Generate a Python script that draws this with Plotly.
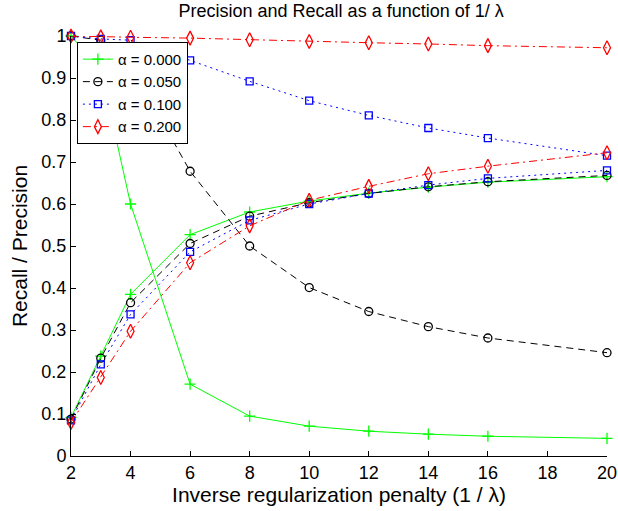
import plotly.graph_objects as go

# ---- data ----
inv_lambda = [2, 3, 4, 6, 8, 10, 12, 14, 16, 20]
alpha_labels = ["α = 0.000", "α = 0.050", "α = 0.100", "α = 0.200"]

precision_a000 = [1.0, 0.92, 0.60, 0.171, 0.095, 0.071, 0.059, 0.052, 0.047, 0.042]
recall_a000 = [0.092, 0.238, 0.385, 0.527, 0.581, 0.607, 0.626, 0.640, 0.652, 0.665]

precision_a050 = [1.0, 0.99, 0.93, 0.678, 0.500, 0.401, 0.344, 0.308, 0.281, 0.246]
recall_a050 = [0.088, 0.233, 0.365, 0.506, 0.571, 0.603, 0.625, 0.641, 0.653, 0.668]

precision_a100 = [1.0, 0.993, 0.990, 0.942, 0.892, 0.846, 0.811, 0.781, 0.757, 0.715]
recall_a100 = [0.085, 0.218, 0.337, 0.486, 0.561, 0.600, 0.625, 0.645, 0.661, 0.680]

precision_a200 = [1.0, 0.998, 0.997, 0.995, 0.991, 0.987, 0.984, 0.981, 0.977, 0.972]
recall_a200 = [0.080, 0.187, 0.297, 0.460, 0.548, 0.609, 0.642, 0.672, 0.690, 0.722]

x_ticks = [2, 4, 6, 8, 10, 12, 14, 16, 18, 20]
y_ticks = [0, 0.1, 0.2, 0.3, 0.4, 0.5, 0.6, 0.7, 0.8, 0.9, 1]
y_tick_text = ["0", "0.1", "0.2", "0.3", "0.4", "0.5", "0.6", "0.7", "0.8", "0.9", "1"]

# ---- styles ----
styles = [
    dict(color="#00FF00", dash="solid", symbol="cross-thin", size=8),
    dict(color="#000000", dash="7px,5px", symbol="circle-open", size=8),
    dict(color="#0000FF", dash="2px,4px", symbol="square-open", size=7),
    dict(color="#FF0000", dash="8px,4px,2px,4px", symbol="diamond-tall-open", size=10),
]
series = [
    (precision_a000, recall_a000),
    (precision_a050, recall_a050),
    (precision_a100, recall_a100),
    (precision_a200, recall_a200),
]

FONT = "Liberation Sans, Arial, Helvetica, sans-serif"

fig = go.Figure()
for label, st, (prec, rec) in zip(alpha_labels, styles, series):
    for i, yv in enumerate((prec, rec)):
        fig.add_trace(go.Scatter(
            x=inv_lambda, y=yv, mode="lines+markers", name=label,
            legendgroup=label, showlegend=(i == 0), cliponaxis=False,
            line=dict(color=st["color"], width=1, dash=st["dash"]),
            marker=dict(symbol=st["symbol"], size=st["size"], color=st["color"],
                        line=dict(color=st["color"], width=1.3)),
        ))

fig.update_layout(
    width=618, height=511,
    margin=dict(l=71, r=11, t=36, b=55),
    paper_bgcolor="white", plot_bgcolor="white",
    font=dict(family=FONT, size=18, color="black"),
    title=dict(text="Precision and Recall as a function of 1/ λ", x=0.552, xanchor="center",
               y=1 - 11 / 511, yanchor="middle", font=dict(size=18, family=FONT)),
    showlegend=True,
    legend=dict(x=0.011, y=0.986, xanchor="left", yanchor="top",
                bgcolor="white", bordercolor="black", borderwidth=1,
                font=dict(size=15, family=FONT), tracegroupgap=0),
    xaxis=dict(range=[2, 20], tickvals=x_ticks, ticks="inside", ticklen=5,
               tickcolor="black", showline=True, linecolor="black", linewidth=1,
               showgrid=False, zeroline=False, tickfont=dict(size=18),
               ticklabeloverflow="allow", automargin=False,
               title=dict(text="Inverse regularization penalty (1 / λ)", font=dict(size=21), standoff=4)),
    yaxis=dict(range=[0, 1], tickvals=y_ticks, ticktext=y_tick_text, ticks="inside", ticklen=5,
               tickcolor="black", showline=True, linecolor="black", linewidth=1,
               showgrid=False, zeroline=False, tickfont=dict(size=18), automargin=False,
               title=dict(text="Recall / Precision", font=dict(size=21), standoff=8)),
)

fig.write_html("out.html")
